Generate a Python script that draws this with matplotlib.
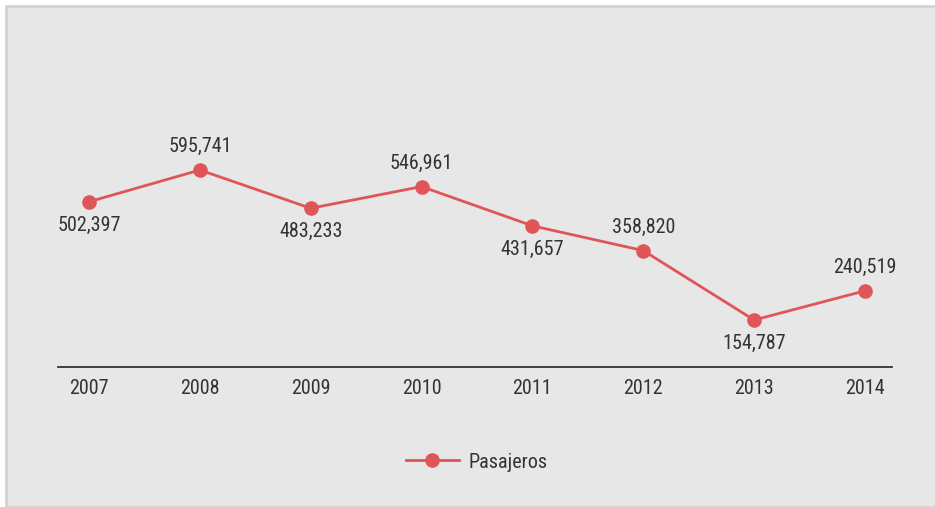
import matplotlib.pyplot as plt
from matplotlib.patches import Rectangle

# Data
years = ["2007", "2008", "2009", "2010", "2011", "2012", "2013", "2014"]
pasajeros = [502397, 595741, 483233, 546961, 431657, 358820, 154787, 240519]
label_above = [False, True, False, True, False, True, False, True]

plt.rcParams['font.family'] = ['Noto Sans Condensed', 'Roboto Condensed', 'Liberation Sans Narrow',
                               'Open Sans Condensed', 'Liberation Sans', 'DejaVu Sans']

W, H = 935, 507
fig = plt.figure(figsize=(W / 100, H / 100), dpi=100, facecolor='white')

# grey panel with thin border on left/top
fig.patches.append(Rectangle((6 / W, 0), 1, 1 - 6 / H, transform=fig.transFigure,
                             facecolor='#e6e7e6', edgecolor='#d3d3d3', linewidth=2, zorder=-10))

ax = fig.add_axes([58 / W, (H - 367) / H, (892 - 58) / W, (367 - 40) / H])
ax.set_facecolor('none')
ax.set_zorder(1)

line_color = '#e05558'
x = list(range(len(years)))
ax.plot(x, pasajeros, color=line_color, linewidth=2.0, marker='o', markersize=9.5,
        label='Pasajeros', clip_on=False)

for xi, v, above in zip(x, pasajeros, label_above):
    ax.annotate(f"{v:,}", (xi, v), xytext=(0, 17 if above else -17), textcoords='offset points',
                ha='center', va='center', fontsize=14.5, color='#333333')

ax.set_xlim(-0.28, 7.244)
ax.set_ylim(16600, 977900)
ax.set_xticks(x)
ax.set_xticklabels(years, fontsize=14.5, color='#333333')
ax.set_yticks([])
ax.tick_params(axis='x', length=0, pad=9)
for s in ['top', 'right', 'left']:
    ax.spines[s].set_visible(False)
ax.spines['bottom'].set_color('#333333')
ax.spines['bottom'].set_linewidth(1.3)

leg = fig.legend(loc='center', bbox_to_anchor=(477 / W, (H - 462) / H), frameon=False,
                 handlelength=2.6, handletextpad=0.5, labelcolor='#333333',
                 prop={'size': 14.5})
leg.set_zorder(5)

fig.savefig('out.png', dpi=100, facecolor='white')
